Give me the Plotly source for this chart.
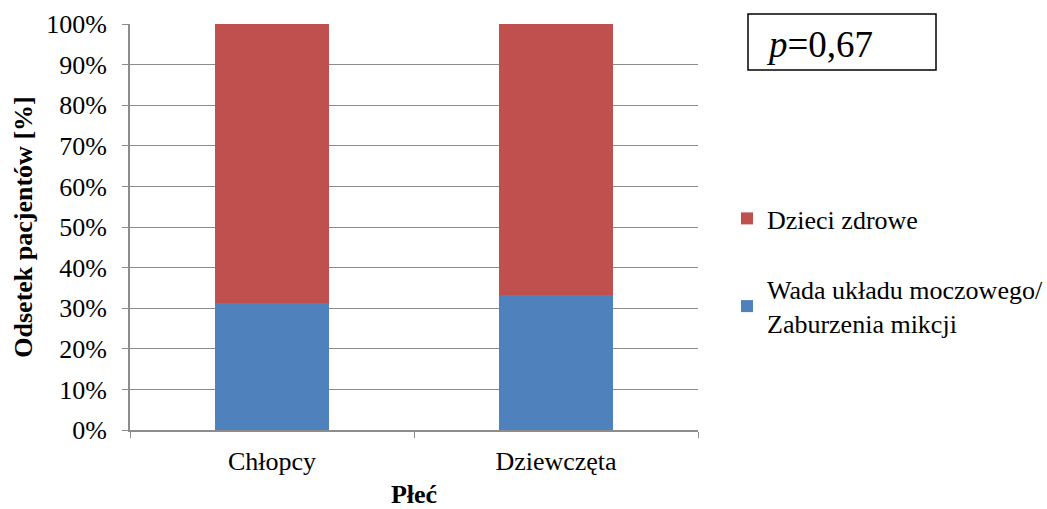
import plotly.graph_objects as go

categories = ["Chłopcy", "Dziewczęta"]
wada = [31.4, 33.3]          # Wada układu moczowego / Zaburzenia mikcji
zdrowe = [68.6, 66.7]        # Dzieci zdrowe
y_ticks = [0, 10, 20, 30, 40, 50, 60, 70, 80, 90, 100]
y_tick_labels = [f"{v}%" for v in y_ticks]

FONT = "Liberation Serif"
GRID = "#8c8c8c"
FS = 26

fig = go.Figure()
fig.add_trace(go.Bar(
    x=categories, y=wada, name="Wada układu moczowego/<br>Zaburzenia mikcji",
    marker=dict(color="#4f81bd", line=dict(width=0)), legendgroup="a", legendrank=2,
))
fig.add_trace(go.Bar(
    x=categories, y=zdrowe, name="Dzieci zdrowe",
    marker=dict(color="#c0504d", line=dict(width=0)), legendgroup="b", legendrank=1,
))

fig.update_layout(
    barmode="stack",
    bargap=0.6,
    width=1047, height=509,
    margin=dict(l=130, r=349, t=24, b=79),
    paper_bgcolor="white", plot_bgcolor="white",
    font=dict(family=FONT, size=FS, color="black"),
    legend=dict(
        xref="container", yref="container",
        x=727 / 1047, y=1 - 195 / 509, xanchor="left", yanchor="top",
        traceorder="grouped", tracegroupgap=34,
        font=dict(family=FONT, size=FS, color="black"),
        itemwidth=30, bgcolor="rgba(0,0,0,0)",
    ),
    showlegend=True,
)

fig.update_yaxes(
    range=[0, 100], tickvals=y_ticks, ticktext=y_tick_labels,
    showgrid=True, gridcolor=GRID, gridwidth=1,
    showline=True, linecolor=GRID, linewidth=2,
    ticks="outside", ticklen=6, tickcolor=GRID, tickwidth=1,
    ticklabelstandoff=10,
    tickfont=dict(family=FONT, size=FS),
    title=dict(text="<b>Odsetek pacjentów [%]</b>", font=dict(family=FONT, size=FS), standoff=6),
    zeroline=False, automargin="left",
)
fig.update_xaxes(
    showline=True, linecolor=GRID, linewidth=2,
    ticks="outside", ticklen=6, tickcolor=GRID, tickwidth=1,
    tickson="boundaries",
    ticklabelstandoff=7,
    tickfont=dict(family=FONT, size=FS),
    title=dict(text="<b>Płeć</b>", font=dict(family=FONT, size=FS)),
    automargin=False,
)

# Box with the p-value
fig.add_shape(
    type="rect", xref="paper", yref="paper",
    x0=(748 - 130) / 568, x1=(936 - 130) / 568,
    y0=(430 - 70) / 406, y1=(430 - 14) / 406,
    line=dict(color="black", width=1.5), fillcolor="white",
)
fig.add_annotation(
    xref="paper", yref="paper",
    x=(764 - 130) / 568, y=(430 - 44) / 406,
    xanchor="left", yanchor="middle", showarrow=False,
    text="<i>p</i>=0,67", font=dict(family=FONT, size=37, color="black"),
)

fig.write_html("out.html")
